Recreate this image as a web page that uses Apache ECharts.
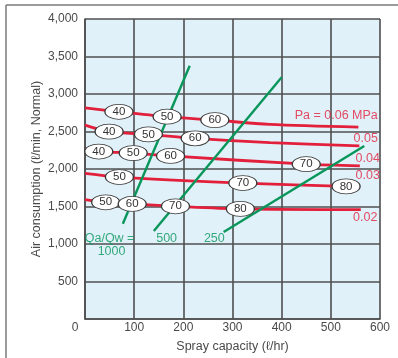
<!DOCTYPE html>
<html>
<head>
<meta charset="utf-8">
<script src="https://cdn.jsdelivr.net/npm/echarts@6/dist/echarts.min.js"></script>
<style>
  html, body { margin: 0; background: #fff; }
  #chart { width: 398px; height: 358px; }
</style>
</head>
<body>
<div id="chart"></div>
<script>
// pressure curves (Pa, MPa): [spray capacity, air consumption]
const pa06 = [[0, 2816], [69, 2763], [167, 2697], [264, 2652], [376, 2594], [556, 2559]]
const pa05 = [[0, 2585], [49, 2498], [129, 2462], [224, 2409], [376, 2352], [558, 2307]]
const pa04 = [[0, 2263], [28, 2233], [98, 2212], [174, 2174], [450, 2064], [559, 2042]]
const pa03 = [[0, 1941], [70, 1893], [321, 1813], [531, 1768], [559, 1764]]
const pa02 = [[0, 1591], [42, 1556], [96, 1534], [184, 1503], [316, 1468], [561, 1458]]

// Qa/Qw ratio lines
const qa1000 = [[77, 1269], [213, 3377]]
const qa500 = [[140, 1172], [400, 3222]]
const qa250 = [[282, 1159], [568, 2307]]

// oval markers on the pressure curves
const badges = [
  [69, 2763, '40'], [167, 2697, '50'], [264, 2652, '60'],
  [49, 2498, '40'], [129, 2462, '50'], [224, 2409, '60'],
  [28, 2233, '40'], [98, 2212, '50'], [174, 2174, '60'], [450, 2064, '70'],
  [70, 1893, '50'], [321, 1813, '70'], [531, 1768, '80'],
  [42, 1556, '50'], [96, 1534, '60'], [184, 1503, '70'], [316, 1468, '80'],
]

const redTexts = [[511, 2717, 'Pa = 0.06 MPa'], [571, 2409, '0.05'], [575, 2140, '0.04'], [575, 1909, '0.03'], [570, 1348, '0.02']]
const greenTexts = [[50, 1079, 'Qa/Qw ='], [54, 901, '1000'], [166, 1079, '500'], [263, 1079, '250']]

const RED = '#e3203c'
const GREEN = '#08965a'
const GRID = '#4f4f4f'
const TEXT = '#4a4a4a'
const FONT = 'Liberation Sans'

const chart = echarts.init(document.getElementById('chart'))

const redLine = (data) => ({
  type: 'line', data, smooth: 0.3, symbol: 'none', z: 2,
  lineStyle: { color: RED, width: 2.8 },
})
const greenLine = (data) => ({
  type: 'line', data, symbol: 'none', z: 3,
  lineStyle: { color: GREEN, width: 2.4 },
})
const textSeries = (data, color) => ({
  type: 'scatter', data, symbolSize: 0, z: 5, silent: true,
  label: {
    show: true, position: 'inside', color, fontSize: 12.5, fontFamily: FONT,
    formatter: (p) => p.value[2],
  },
})

const fmt = (v) => String(v).replace(/\B(?=(\d{3})+(?!\d))/g, ',')

chart.setOption({
  animation: false,
  textStyle: { fontFamily: FONT },
  grid: {
    left: 85, right: 18, top: 19, bottom: 37.3,
    show: true, backgroundColor: '#e0f1f9', borderWidth: 0,
  },
  xAxis: {
    type: 'value', min: 0, max: 600, interval: 100,
    name: 'Spray capacity (ℓ/hr)', nameLocation: 'middle', nameGap: 21, nameMoveOverlap: false,
    nameTextStyle: { color: TEXT, fontSize: 12.5, fontFamily: FONT },
    axisLine: { show: true, lineStyle: { color: GRID, width: 1.6 } },
    axisTick: { show: false },
    axisLabel: {
      color: TEXT, fontSize: 12, fontFamily: FONT, margin: 3,
      formatter: (v) => (v === 0 ? '{z|0}' : String(v)),
      rich: { z: { color: TEXT, fontSize: 12, fontFamily: FONT, padding: [0, 20, 0, 0] } },
    },
    splitLine: { show: true, lineStyle: { color: GRID, width: 1.6 } },
  },
  yAxis: {
    type: 'value', min: 0, max: 4000, interval: 500,
    name: 'Air consumption (ℓ/min, Normal)', nameLocation: 'middle', nameGap: 42, nameMoveOverlap: false,
    nameTextStyle: { color: TEXT, fontSize: 12.5, fontFamily: FONT },
    axisLine: { show: true, lineStyle: { color: GRID, width: 1.6 } },
    axisTick: { show: false },
    axisLabel: {
      color: TEXT, fontSize: 12, fontFamily: FONT, margin: 7,
      formatter: (v) => (v === 0 ? '' : fmt(v)),
    },
    splitLine: { show: true, lineStyle: { color: GRID, width: 1.6 } },
  },
  graphic: [
    { type: 'line', shape: { x1: 6, y1: 5, x2: 398, y2: 5 }, style: { stroke: '#7a7a7a', lineWidth: 1.5 } },
    { type: 'line', shape: { x1: 6, y1: 5, x2: 6, y2: 358 }, style: { stroke: '#7a7a7a', lineWidth: 1.5 } },
  ],
  series: [
    redLine(pa06), redLine(pa05), redLine(pa04), redLine(pa03), redLine(pa02),
    greenLine(qa1000), greenLine(qa500), greenLine(qa250),
    {
      type: 'scatter', data: badges, symbol: 'circle', symbolSize: [28, 15], z: 4,
      itemStyle: { color: '#fff', borderColor: '#3a3a3a', borderWidth: 1, opacity: 1 },
      label: {
        show: true, position: 'inside', color: '#333', fontSize: 11.5, fontFamily: FONT,
        formatter: (p) => p.value[2],
      },
    },
    textSeries(redTexts, RED),
    textSeries(greenTexts, GREEN),
  ],
})
</script>
</body>
</html>
